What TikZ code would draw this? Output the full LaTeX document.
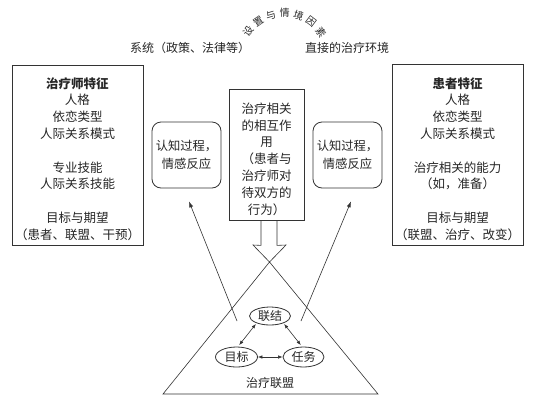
\documentclass[tikz,border=0pt]{standalone}
\usepackage{fontspec}
\setmainfont{Noto Sans CJK SC}
\usetikzlibrary{arrows.meta,calc,shapes.geometric}
\begin{document}
\begin{tikzpicture}[x=1pt,y=-1pt,line width=0.8pt,
  ln/.style={draw=black!80},
  box/.style={ln,inner sep=0pt},
  rbox/.style={ln,inner sep=0pt,rounded corners=9pt,minimum width=69pt,minimum height=66pt},
  txt/.style={align=center,inner sep=0pt,text=black!85,font=\fontsize{12.5}{16.8}\selectfont},
  lbl/.style={inner sep=0pt,text=black!85,font=\fontsize{12}{14}\selectfont},
  arcch/.style={inner sep=0pt,text=black!85,font=\fontsize{10}{11}\selectfont},
  ell/.style={ln,ellipse,inner sep=0pt,text=black!85,font=\fontsize{12}{14}\selectfont},
  thin/.style={draw=black!80,line width=0.6pt},
  tip/.style={-{Latex[length=6pt,width=4pt]}},
  dtip/.style={{Latex[length=4.5pt,width=3.5pt]}-{Latex[length=4.5pt,width=3.5pt]}}
]
\useasboundingbox[fill=white] (0,0) rectangle (538,400);

% arc title
\foreach \c [count=\i from 0] in {设,置,与,情,境,因,素} {
  \pgfmathsetmacro\a{143-\i*18}
  \node[arcch,rotate=\a-90] (arc\i) at ({284+45*cos(\a)},{58-45*sin(\a)}) {\c};
}
\node[lbl] (sys) at (190,48) {系统（政策、法律等）};
\node[lbl] (env) at (347,48) {直接的治疗环境};

% left box
\node[box,minimum width=131pt,minimum height=180pt] (tbox) at (77.5,155) {};
\node[txt] (ttext) at (77.5,159) {\textbf{治疗师特征}\\人格\\依恋类型\\人际关系模式\\[16.8pt]专业技能\\人际关系技能\\[16.8pt]目标与期望\\（患者、联盟、干预）};

% right box
\node[box,minimum width=131pt,minimum height=181pt] (pbox) at (457.5,154.5) {};
\node[txt] (ptext) at (457.5,159) {\textbf{患者特征}\\人格\\依恋类型\\人际关系模式\\[16.8pt]治疗相关的能力\\（如，准备）\\[16.8pt]目标与期望\\（联盟、治疗、改变）};

% center box
\node[box,minimum width=75pt,minimum height=131pt] (cbox) at (266.5,154.5) {};
\node[txt] (ctext) at (266.5,159) {治疗相关\\的相互作\\用\\（患者与\\治疗师对\\待双方的\\行为）};

% rounded boxes
\node[rbox] (lr) at (186.5,155) {};
\node[txt,font=\fontsize{12.3}{18}\selectfont] (lrt) at (186.5,155) {认知过程，\\情感反应};
\node[rbox] (rr) at (347.5,155) {};
\node[txt,font=\fontsize{12.3}{18}\selectfont] (rrt) at (347.5,155) {认知过程，\\情感反应};

% hollow arrow and triangle
\coordinate (s1) at ($(cbox.south)+(-5.5,0)$);
\coordinate (s2) at ($(cbox.south)+(10.5,0)$);
\coordinate (h1) at (253,245);
\coordinate (h2) at (286,245);
\coordinate (apex) at (269.5,262);
\coordinate (bl) at (163,394);
\coordinate (br) at (378,394);
\draw[thin,line join=miter] (s1) -- ++(0,25) -- (h1) -- (apex) -- (h2) -- ($(s2)+(0,25)$) -- (s2);
\draw[thin] (apex) -- (bl) -- (br) -- cycle;
\node[lbl] (alliance) at (270,383) {治疗联盟};

% arrows to rounded boxes
\coordinate (la) at (237,321);
\coordinate (lt) at ($(lr.south)+(2.5,13)$);
\coordinate (ra) at (301,321);
\coordinate (rt) at ($(rr.south)+(3.5,13)$);
\draw[thin,tip] (la) -- (lt);
\draw[thin,tip] (ra) -- (rt);

% ellipses
\node[ell,minimum width=41pt,minimum height=18pt] (bond) at (270,316) {联结};
\node[ell,minimum width=42pt,minimum height=20pt] (goal) at (236.5,357) {目标};
\node[ell,minimum width=41pt,minimum height=20pt] (task) at (303.5,357) {任务};
\draw[thin,dtip,shorten <=1pt,shorten >=2pt] (bond.208) -- (goal.82);
\draw[thin,dtip,shorten <=1pt,shorten >=2pt] (bond.332) -- (task.98);
\draw[thin,dtip] (goal.east) -- (task.west);
\end{tikzpicture}
\end{document}
